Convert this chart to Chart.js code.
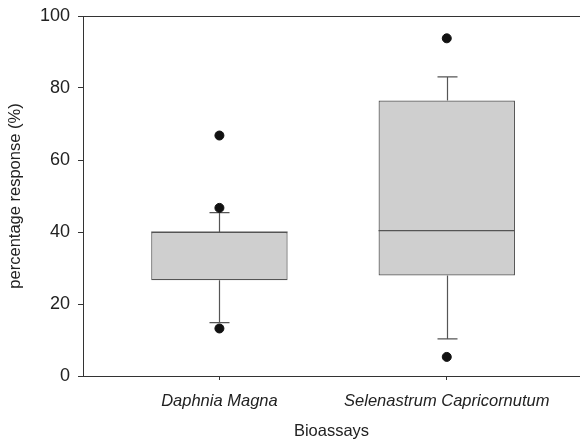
<!DOCTYPE html>
<html>
<head>
<meta charset="UTF-8">
<title>Bioassays box plot</title>
<script src="https://cdn.jsdelivr.net/npm/chart.js@4.4.0/dist/chart.umd.min.js"></script>
<style>
  html, body { margin: 0; padding: 0; background: #fff; }
  #wrap { width: 580px; height: 441px; }
</style>
</head>
<body>
<div id="wrap"><canvas id="boxChart"></canvas></div>
<script>
// values
const categories = ['Daphnia Magna', 'Selenastrum Capricornutum'];
const q1 = [26.6, 27.9];
const median = [40.0, 40.4];
const q3 = [40.0, 76.5];
const whiskerLow = [14.8, 10.3];
const whiskerHigh = [45.4, 83.1];
const outliers = [[66.8, 46.7, 13.2], [93.8, 5.3]];
const yTicks = [0, 20, 40, 60, 80, 100];

const FONT = "'Liberation Sans', Arial, sans-serif";
const LINE = '#555555';

// whiskers, caps, medians and the top frame line
const boxExtras = {
    id: 'boxExtras',
    beforeDatasetsDraw(chart) {
        const ctx = chart.ctx;
        const xs = chart.scales.x, ys = chart.scales.y;
        ctx.save();
        ctx.strokeStyle = LINE;
        ctx.lineWidth = 1.2;
        categories.forEach((c, i) => {
            const cx = Math.round(xs.getPixelForValue(i)) + 0.5;
            const capHalf = 10;
            const yh = ys.getPixelForValue(whiskerHigh[i]);
            const yl = ys.getPixelForValue(whiskerLow[i]);
            ctx.beginPath();
            ctx.moveTo(cx, ys.getPixelForValue(q3[i]));
            ctx.lineTo(cx, yh);
            ctx.moveTo(cx, ys.getPixelForValue(q1[i]));
            ctx.lineTo(cx, yl);
            ctx.moveTo(cx - capHalf, yh); ctx.lineTo(cx + capHalf, yh);
            ctx.moveTo(cx - capHalf, yl); ctx.lineTo(cx + capHalf, yl);
            ctx.stroke();
        });
        ctx.restore();
    },
    afterDatasetsDraw(chart) {
        const ctx = chart.ctx;
        const ys = chart.scales.y;
        const meta = chart.getDatasetMeta(1);
        ctx.save();
        ctx.strokeStyle = LINE;
        ctx.lineWidth = 1.2;
        meta.data.forEach((bar, i) => {
            const ym = ys.getPixelForValue(median[i]);
            ctx.beginPath();
            ctx.moveTo(bar.x - bar.width / 2, ym);
            ctx.lineTo(bar.x + bar.width / 2, ym);
            ctx.stroke();
        });
        // top frame line
        const a = chart.chartArea;
        ctx.strokeStyle = '#333';
        ctx.lineWidth = 1;
        ctx.beginPath();
        ctx.moveTo(a.left - 5, Math.round(a.top) + 0.5);
        ctx.lineTo(chart.width, Math.round(a.top) + 0.5);
        ctx.stroke();
        ctx.restore();
    }
};

const outlierPoints = [];
outliers.forEach((list, i) => list.forEach(v => outlierPoints.push({ x: i, y: v })));

new Chart(document.getElementById('boxChart'), {
    type: 'bar',
    data: {
        datasets: [
            {
                type: 'scatter',
                data: outlierPoints,
                backgroundColor: '#111111',
                borderColor: '#111111',
                pointRadius: 4.5,
                pointHoverRadius: 4.5
            },
            {
                type: 'bar',
                data: categories.map((c, i) => ({ x: i, y: [q1[i], q3[i]] })),
                backgroundColor: '#cfcfcf',
                borderColor: LINE,
                borderWidth: 1.2,
                borderSkipped: false,
                categoryPercentage: 1,
                barPercentage: 0.6
            }
        ]
    },
    options: {
        responsive: true,
        maintainAspectRatio: false,
        animation: false,
        layout: { autoPadding: false, padding: { top: 16, right: 0, left: 0, bottom: 0 } },
        plugins: { legend: { display: false }, tooltip: { enabled: false } },
        scales: {
            x: {
                type: 'linear',
                offset: false,
                min: -0.6,
                max: 1.586,
                afterFit(scale) { scale.height = 65; scale.paddingRight = 0; scale.paddingLeft = 0; },
                afterBuildTicks(scale) { scale.ticks = categories.map((c, i) => ({ value: i })); },
                ticks: {
                    callback: (v) => categories[v],
                    color: '#222',
                    font: { family: FONT, size: 16.5, style: 'italic' },
                    padding: 12,
                    maxRotation: 0,
                    autoSkip: false
                },
                grid: { offset: false, drawOnChartArea: false, drawTicks: true, tickLength: 4, color: '#333' },
                border: { display: true, color: '#333', width: 1 },
                title: {
                    display: true,
                    text: 'Bioassays',
                    color: '#222',
                    font: { family: FONT, size: 16.5 },
                    padding: { top: 0, bottom: 0 }
                }
            },
            y: {
                min: 0,
                max: 100,
                afterFit(scale) { scale.width = 83; scale.paddingTop = 0; scale.paddingBottom = 0; },
                afterBuildTicks(scale) { scale.ticks = yTicks.map(v => ({ value: v })); },
                ticks: {
                    color: '#222',
                    font: { family: FONT, size: 18 },
                    padding: 8
                },
                grid: { drawOnChartArea: false, drawTicks: true, tickLength: 5, color: '#333' },
                border: { display: true, color: '#333', width: 1 },
                title: {
                    display: true,
                    text: 'percentage response (%)',
                    color: '#222',
                    font: { family: FONT, size: 16.5 },
                    padding: { top: 6, bottom: 0 }
                }
            }
        }
    },
    plugins: [boxExtras]
});
</script>
</body>
</html>
